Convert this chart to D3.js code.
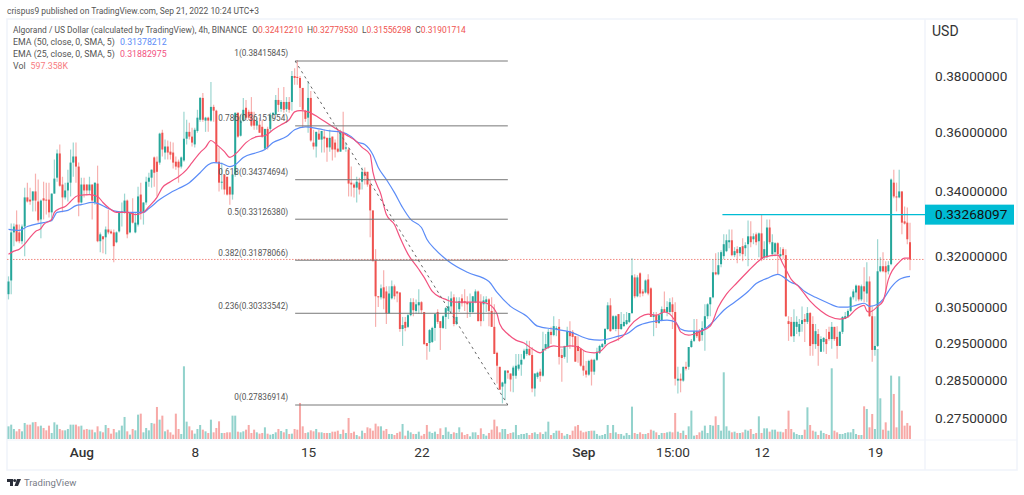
<!DOCTYPE html>
<html>
<head>
<meta charset="utf-8">
<title>ALGO/USD 4h</title>
<script src="https://cdn.jsdelivr.net/npm/d3@7"></script>
<style>
    html, body { margin: 0; padding: 0; background: #fff; overflow: hidden; }
    svg { display: block; font-family: Roboto, sans-serif; }
</style>
</head>
<body>
<svg id="chart" width="1024" height="495"></svg>
<script>
// 4h candles: open, high, low, close (price x 10000)
const candles = [
    // late July
    [3088,3140,3073,3125],[3128,3299,3088,3272],[3272,3299,3230,3290],[3296,3340,3242,3245],[3272,3296,3239,3245],[3245,3296,3236,3290],
    [3290,3412,3200,3381],[3381,3428,3365,3368],[3374,3412,3358,3368],[3371,3400,3337,3400],[3400,3457,3337,3371],[3368,3438,3302,3309],
    [3312,3374,3254,3371],[3378,3431,3312,3371],[3374,3428,3327,3371],[3374,3428,3318,3334],[3334,3393,3306,3393],[3393,3503,3393,3441],
    [3444,3536,3431,3523],[3523,3553,3415,3418],[3422,3447,3334,3381],[3381,3428,3374,3403],[3403,3470,3368,3428],[3428,3536,3384,3493],
    [3493,3559,3447,3513],[3513,3559,3428,3480],[3480,3493,3322,3365],[3365,3444,3362,3422],
    // Aug 1
    [3422,3444,3381,3403],[3422,3422,3387,3403],[3403,3447,3390,3422],[3422,3422,3312,3371],[3365,3428,3358,3428],[3425,3483,3242,3245],
    [3245,3272,3212,3266],[3260,3260,3209,3251],[3257,3290,3206,3281],[3281,3343,3266,3272],[3275,3281,3266,3269],[3272,3281,3182,3230],
    [3242,3275,3239,3272],[3275,3337,3272,3334],[3334,3365,3290,3337],[3334,3393,3330,3371],[3371,3374,3254,3266],[3272,3334,3269,3334],
    [3334,3378,3299,3302],[3272,3334,3269,3302],[3296,3415,3290,3384],[3390,3428,3312,3334],[3334,3365,3296,3365],[3365,3447,3358,3431],
    [3431,3460,3415,3444],[3444,3470,3412,3470],[3510,3513,3415,3460],[3496,3513,3384,3463],[3493,3592,3486,3589],[3592,3602,3513,3536],
    [3526,3569,3503,3546],[3546,3566,3503,3526],[3529,3562,3503,3519],[3526,3559,3474,3493],[3496,3513,3470,3480],[3496,3503,3428,3477],
    [3480,3513,3474,3510],[3500,3663,3496,3572],[3572,3636,3553,3595],[3595,3626,3569,3579],[3579,3609,3546,3559],[3553,3609,3543,3602],
    // Aug 8
    [3598,3670,3592,3643],[3636,3714,3629,3711],[3711,3728,3629,3636],[3633,3646,3595,3643],[3643,3646,3595,3633],[3633,3767,3629,3680],
    [3680,3687,3629,3667],[3667,3670,3493,3493],[3496,3543,3400,3428],[3428,3493,3406,3431],[3454,3454,3390,3406],[3447,3447,3387,3390],
    [3415,3415,3358,3390],[3390,3454,3374,3454],[3454,3660,3447,3660],[3660,3660,3575,3579],[3582,3653,3579,3633],[3633,3711,3629,3670],
    [3677,3704,3636,3643],[3663,3670,3636,3643],[3663,3714,3612,3616],[3636,3663,3602,3616],[3616,3643,3602,3633],[3619,3643,3592,3592],
    [3612,3636,3575,3579],[3539,3605,3536,3605],[3605,3612,3536,3543],[3605,3660,3595,3653],[3653,3660,3636,3660],[3653,3721,3653,3704],
    [3704,3746,3663,3687],[3673,3704,3663,3697],[3697,3749,3660,3670],[3673,3714,3663,3697],[3697,3714,3660,3670],[3697,3806,3667,3788],
    [3788,3816,3757,3781],[3785,3845,3757,3781],[3781,3788,3680,3746],[3746,3746,3609,3670],[3667,3670,3629,3639],[3643,3770,3592,3711],
    // Aug 15
    [3711,3735,3562,3566],[3559,3602,3536,3546],[3546,3595,3510,3595],[3589,3602,3569,3569],[3569,3598,3526,3598],[3579,3602,3526,3572],
    [3575,3575,3496,3543],[3543,3602,3529,3575],[3579,3579,3500,3536],[3559,3569,3510,3536],[3539,3602,3526,3529],[3529,3602,3529,3595],
    [3595,3663,3536,3536],[3539,3559,3529,3543],[3536,3543,3384,3425],[3428,3480,3384,3422],[3422,3428,3381,3412],[3412,3447,3365,3431],
    [3428,3444,3390,3406],[3431,3477,3406,3463],[3463,3477,3422,3450],[3463,3463,3415,3422],[3422,3438,3257,3340],[3340,3340,3185,3185],
    [3188,3221,2995,3082],[3082,3082,3051,3079],[3079,3116,3073,3105],[3108,3158,3045,3076],[3096,3111,3003,3033],[3033,3111,3031,3090],
    [3076,3128,3073,3111],[3111,3116,3073,3082],[3096,3096,3065,3090],[3093,3093,2981,2989],[2989,3023,2942,3000],[3009,3023,2983,2992],
    [2995,3031,2992,3028],[3028,3076,3025,3065],[3065,3076,3025,3042],[3040,3073,3031,3059],[3056,3102,3031,3065],[3065,3068,3031,3042],
    // Aug 22
    [3037,3037,2945,2947],[2950,2950,2904,2942],[2950,2989,2926,2986],[2953,2995,2950,2992],[2992,3034,2956,3031],[3037,3045,3003,3009],
    [3011,3011,2931,2992],[2992,3028,2989,3025],[3023,3051,2989,3048],[3040,3082,3017,3053],[3053,3096,3031,3076],[3079,3088,2997,3003],
    [3003,3079,3000,3023],[3045,3079,3037,3068],[3076,3088,3053,3062],[3068,3102,3040,3062],[3065,3082,3020,3059],[3037,3090,3023,3065],
    [3037,3082,3034,3082],[3065,3102,3062,3096],[3096,3099,3011,3011],[3065,3088,2997,3011],[3059,3082,3011,3070],[3065,3082,3037,3073],
    [3073,3076,2997,3040],[3040,3079,2995,2995],[2995,3059,2920,2920],[2923,2926,2840,2888],[2885,2885,2824,2824],[2832,2845,2788,2843],
    [2840,2875,2796,2875],[2875,2875,2853,2869],[2867,2867,2819,2851],[2861,2888,2817,2883],[2861,2920,2853,2888],[2880,2920,2875,2891],
    [2891,2920,2861,2904],[2907,2934,2904,2929],[2920,2956,2915,2934],[2934,2956,2915,2917],[2917,2939,2817,2827],[2827,2867,2806,2867],
    [2858,2872,2853,2869],[2872,2880,2845,2861],[2861,2981,2858,2934],[2934,2975,2929,2947],[2937,2989,2934,2981],[2981,2995,2947,2972],
    [2972,3025,2969,2997],[2989,2997,2969,2992],[2995,3017,2891,2912],[2917,2934,2845,2909],[2912,2942,2907,2942],[2942,2995,2896,2983],
    [2983,3011,2934,2969],[2981,2986,2939,2967],[2969,2969,2899,2899],[2942,2969,2896,2928],[2934,2934,2885,2888],[2888,2928,2861,2875],
    // Sep
    [2875,2901,2856,2864],[2864,2904,2861,2901],[2904,2907,2835,2872],[2872,2907,2864,2904],[2904,2937,2901,2926],[2923,2945,2920,2942],
    [2939,2950,2937,2947],[2947,2992,2942,2989],[2989,3065,2986,3056],[3056,3076,2981,2983],[2989,3028,2986,3025],[2989,3028,2983,3025],
    [3031,3031,2956,2989],[2989,3037,2986,3003],[2997,3031,2995,3009],[3003,3037,3000,3014],[3009,3034,3006,3034],[3034,3194,3031,3143],
    [3137,3146,3076,3082],[3082,3143,3079,3137],[3149,3152,3079,3090],[3096,3102,3082,3090],[3093,3131,3090,3128],[3131,3146,3085,3090],
    [3105,3108,3023,3023],[3023,3037,2969,3028],[3028,3037,2992,3006],[3006,3031,3003,3028],[3014,3053,3011,3045],[3045,3096,3034,3037],
    [3037,3068,3025,3051],[3037,3076,3031,3065],[3059,3079,2989,3037],[3037,3065,2835,2853],[2848,2885,2814,2853],[2853,2867,2817,2848],
    [2848,2885,2845,2885],[2885,2899,2875,2880],[2885,2939,2877,2939],[2939,2961,2937,2956],[2956,3017,2953,2983],[2983,3017,2964,2969],
    [2983,2989,2953,2956],[2972,3011,2956,2992],[2992,3059,2929,3025],[3025,3062,3017,3059],[3059,3079,3025,3079],[3079,3191,3076,3152],
    [3152,3209,3143,3146],[3146,3212,3143,3173],[3176,3218,3167,3212],[3200,3266,3191,3236],[3215,3266,3212,3248],[3242,3281,3224,3248],
    [3248,3281,3200,3203],[3203,3227,3197,3215],[3221,3230,3179,3209],[3209,3227,3200,3227],[3230,3254,3185,3206],[3224,3242,3200,3233],
    // Sep 12
    [3236,3309,3170,3260],[3260,3306,3227,3242],[3251,3269,3236,3260],[3266,3272,3233,3242],[3245,3272,3197,3269],[3269,3327,3185,3191],
    [3197,3245,3191,3221],[3197,3312,3194,3287],[3287,3312,3236,3242],[3206,3266,3200,3242],[3212,3242,3200,3239],[3239,3242,3146,3206],
    [3200,3227,3197,3206],[3221,3227,3191,3203],[3203,3221,3023,3025],[3011,3025,2956,3003],[3009,3023,2967,2969],[2969,3045,2953,3009],
    [2995,3025,2975,3009],[2981,3017,2969,3003],[3003,3053,2981,3014],[3017,3031,2953,3009],[3009,3051,3003,3034],[3034,3037,2915,2942],
    [3003,3025,2915,2947],[2947,3003,2934,2983],[2975,2989,2888,2942],[2926,2969,2926,2961],[2953,2967,2926,2964],[2961,2989,2920,2947],
    [2981,2995,2956,2961],[2961,3009,2934,2995],[2995,2995,2956,2961],[2967,2997,2907,2942],[2942,2983,2942,2981],[2981,3025,2975,3023],
    [3017,3037,3017,3025],[3023,3045,3020,3040],[3040,3082,3037,3079],[3079,3102,3073,3096],[3093,3116,3068,3113],[3113,3113,3068,3073],
    // Sep 19
    [3073,3116,3068,3111],[3111,3167,3065,3096],[3090,3182,3065,3125],[3125,3140,3023,3025],[3025,3053,2899,2931],[2931,3025,2915,2942],
    [2942,3251,2939,3155],[3155,3197,3152,3170],[3170,3212,3152,3155],[3170,3185,3093,3152],[3155,3185,3146,3173],[3176,3441,3173,3438],
    [3428,3470,3378,3384],[3384,3428,3337,3381],[3381,3470,3378,3400],[3400,3400,3266,3302],[3306,3352,3296,3299],[3302,3349,3236,3251],
    [3242,3302,3158,3190]
];

// relative volume per candle
const volumes = [
    38,43,30,23,30,23,48,43,43,50,51,38,40,33,26,40,18,50,43,30,26,26,30,43,43,43,38,40,28,30,28,28,20,38,23,20,42,33,16,30,
    20,26,40,66,23,13,30,26,73,76,20,33,26,48,46,96,58,70,23,28,20,13,76,30,15,218,52,38,26,16,30,42,28,23,18,58,20,33,53,18,
    18,20,20,70,70,22,20,23,28,42,18,28,20,16,18,35,16,13,15,20,30,24,20,30,15,16,30,28,108,38,18,20,26,23,30,20,20,18,18,
    18,22,22,25,15,28,18,63,18,22,12,8,25,18,35,32,25,46,38,38,25,30,15,15,12,18,22,45,10,25,20,15,15,22,10,15,42,22,18,22,
    15,32,12,35,22,15,20,18,35,20,12,15,8,20,20,12,32,15,10,18,28,58,38,20,30,30,15,18,20,42,12,15,15,18,12,18,20,15,20,15,
    22,52,12,18,25,25,18,10,15,12,25,38,42,25,20,22,24,25,25,15,10,12,15,42,18,42,20,15,15,10,18,12,97,18,15,20,15,15,18,28,
    25,20,12,18,18,20,22,
    20,78,22,18,25,12,38,85,10,12,20,25,40,18,42,40,68,42,25,200,38,25,20,22,18,18,20,28,25,30,15,18,68,18,32,32,22,28,28,22,22,
    20,30,85,30,20,15,12,12,28,95,42,25,22,12,25,18,15,12,212,25,20,15,15,18,20,20,30,15,12,12,98,90,35,75,30,270,122,28,50,25,
    190,135,35,188,85,40,48,40
];

// moving averages: [candle index, price x 10000]
const ema25 = [
    [0,3206],[2,3215],[4,3221],[6,3236],[8,3257],[10,3275],[12,3284],[13,3296],[16,3312],[17,3334],[19,3346],[21,3352],[23,3368],[25,3384],[26,3387],[30,3390],[33,3384],[35,3365],[37,3349],[40,3334],
    [44,3334],[47,3327],[50,3334],[52,3352],[55,3381],[57,3412],[60,3431],[63,3447],[66,3470],[68,3493],[71,3526],[73,3543],[75,3566],[77,3553],[80,3529],[82,3510],[85,3529],[88,3559],[92,3579],[95,3582],
    [98,3602],[101,3619],[104,3636],[106,3663],[108,3667],[111,3663],[115,3643],[119,3619],[122,3602],[125,3585],[129,3562],[131,3543],[134,3519],[135,3463],[138,3390],[140,3327],[143,3296],[145,3257],[148,3206],[152,3161],
    [154,3137],[157,3096],[160,3079],[162,3073],[165,3065],[170,3065],[175,3065],[178,3059],[181,3031],[182,3003],[185,2975],[188,2958],[191,2950],[194,2934],[197,2923],[199,2934],[202,2942],[205,2939],[208,2942],[211,2939],
    [214,2926],[217,2923],[219,2926],[222,2947],[226,2961],[228,2972],[230,2995],[234,3023],[237,3031],[240,3028],[243,3037],[245,3031],[248,2997],[249,2981],[252,2972],[256,2981],[260,2997],[263,3051],[266,3088],[270,3122],
    [274,3155],[277,3179],[280,3197],[285,3203],[287,3176],[290,3131],[293,3108],[297,3068],[301,3040],[304,3025],[308,3017],[311,3023],[314,3045],[317,3056],[318,3040],[319,3037],[322,3053],[324,3068],[326,3131],[330,3182],
    [332,3194],[334,3194]
];
const ema50 = [
    [0,3281],[4,3278],[7,3290],[11,3299],[13,3302],[16,3309],[18,3334],[22,3340],[25,3355],[27,3358],[31,3365],[33,3362],[37,3346],[40,3337],[44,3334],[47,3334],[50,3334],[52,3346],[56,3374],[60,3396],
    [63,3409],[67,3428],[71,3460],[74,3486],[76,3493],[79,3490],[82,3480],[84,3486],[87,3510],[92,3526],[95,3536],[98,3559],[103,3579],[106,3602],[110,3612],[115,3605],[119,3598],[123,3595],[127,3579],[129,3562],
    [132,3553],[135,3519],[137,3477],[140,3438],[143,3396],[146,3349],[149,3312],[153,3287],[155,3251],[158,3221],[163,3185],[170,3152],[178,3125],[181,3093],[186,3053],[192,3025],[196,2997],[202,2989],[208,2981],[215,2961],
    [219,2958],[226,2969],[229,2975],[233,2997],[238,3009],[244,3014],[247,3009],[249,2989],[252,2983],[256,2983],[259,2995],[262,3017],[265,3042],[269,3065],[274,3096],[277,3119],[281,3134],[285,3146],[290,3122],[292,3116],
    [295,3096],[299,3079],[303,3065],[308,3051],[311,3051],[314,3056],[317,3062],[319,3053],[322,3059],[324,3073],[327,3108],[330,3131],[334,3140]
];

const fibLevels = [
    { ratio: "1", price: 0.38415845 },
    { ratio: "0.786", price: 0.36151954 },
    { ratio: "0.618", price: 0.34374694 },
    { ratio: "0.5", price: 0.33126380 },
    { ratio: "0.382", price: 0.31878066 },
    { ratio: "0.236", price: 0.30333542 },
    { ratio: "0", price: 0.27836914 }
];

const resistance = 0.33268097;
const lastClose = 0.31901714;
const priceTicks = [0.38, 0.36, 0.34, 0.32, 0.305, 0.295, 0.285, 0.275];
const timeTicks = new Map([[27, "Aug"], [69, "8"], [111, "15"], [153, "22"], [213, "Sep"], [246, "15:00"], [279, "12"], [321, "19"]]);

const up = "#26a69a", down = "#ef5350";
const plot = { left: 7, right: 925, top: 19, bottom: 470, volBase: 439, outer: 1017 };

const svg = d3.select("#chart");

// === Scales ===
const x = d3.scaleLinear().domain([0, candles.length - 1]).range([8.5, 910]);
const y = d3.scaleLog().domain([0.38415845, 0.27836914]).range([61, 405]);
const yVol = d3.scaleLinear().domain([0, 218]).range([plot.volBase, 366.3]);
const p = v => y(v / 10000);

// === Frame ===
const frame = svg.append("g").attr("fill", "none").attr("stroke", "#f0f3fa").attr("stroke-width", 1.5);
frame.append("rect").attr("x", plot.left).attr("y", plot.top)
    .attr("width", plot.outer - plot.left).attr("height", plot.bottom - plot.top);
frame.append("line").attr("x1", plot.right).attr("x2", plot.right).attr("y1", plot.top).attr("y2", plot.bottom);
frame.append("line").attr("x1", plot.left).attr("x2", plot.outer).attr("y1", 440).attr("y2", 440).attr("stroke-width", 1);

// === Last price line ===
svg.append("line").attr("x1", plot.left).attr("x2", plot.right)
    .attr("y1", y(lastClose)).attr("y2", y(lastClose))
    .attr("stroke", "#f28b82").attr("stroke-width", 1).attr("stroke-dasharray", "1.5 1.5");

// === Volume ===
svg.append("g").selectAll("rect")
    .data(candles).enter().append("rect")
    .attr("x", (d, i) => x(i) - 1).attr("width", 2)
    .attr("y", (d, i) => yVol(volumes[i] || 0))
    .attr("height", (d, i) => plot.volBase - yVol(volumes[i] || 0))
    .attr("fill", d => d[3] >= d[0] ? up : down).attr("opacity", 0.5);

// === Candles ===
const cg = svg.append("g");
cg.selectAll("line")
    .data(candles).enter().append("line")
    .attr("x1", (d, i) => x(i)).attr("x2", (d, i) => x(i))
    .attr("y1", d => p(d[1])).attr("y2", d => p(d[2]))
    .attr("stroke", d => d[3] >= d[0] ? up : down).attr("stroke-width", 1.2).attr("opacity", 0.45);
cg.selectAll("rect")
    .data(candles).enter().append("rect")
    .attr("x", (d, i) => x(i) - 1).attr("width", 2)
    .attr("y", d => p(Math.max(d[0], d[3])))
    .attr("height", d => Math.max(1, Math.abs(p(d[0]) - p(d[3]))))
    .attr("fill", d => d[3] >= d[0] ? up : down);

// === EMA lines ===
const emaLine = d3.line().x(d => x(d[0])).y(d => p(d[1])).curve(d3.curveMonotoneX);
svg.append("path").datum(ema50).attr("d", emaLine).attr("fill", "none").attr("stroke", "#5b8cf7").attr("stroke-width", 1.2);
svg.append("path").datum(ema25).attr("d", emaLine).attr("fill", "none").attr("stroke", "#f2527f").attr("stroke-width", 1.2);

// === Fibonacci drawing ===
const fibFrom = x(106.2), fibTo = x(185);
svg.append("g").selectAll("line")
    .data(fibLevels).enter().append("line")
    .attr("x1", fibFrom).attr("x2", fibTo)
    .attr("y1", d => y(d.price)).attr("y2", d => y(d.price))
    .attr("stroke", "#787878").attr("stroke-width", 1);
svg.append("g").selectAll("text")
    .data(fibLevels).enter().append("text")
    .attr("x", fibFrom - 7).attr("y", d => y(d.price) - 7.5).attr("dy", "0.35em")
    .attr("text-anchor", "end").attr("font-size", 8.2).attr("fill", "#555")
    .text(d => `${d.ratio}(${d.price.toFixed(8)})`);
svg.append("line").attr("x1", fibFrom).attr("x2", fibTo)
    .attr("y1", y(0.38415845)).attr("y2", y(0.27836914))
    .attr("stroke", "#666").attr("stroke-width", 1).attr("stroke-dasharray", "2.5 3.5");

// === Resistance line and price tag ===
svg.append("line").attr("x1", x(264.5)).attr("x2", plot.right)
    .attr("y1", y(resistance)).attr("y2", y(resistance))
    .attr("stroke", "#00bcd4").attr("stroke-width", 1.2);
svg.append("rect").attr("x", plot.right).attr("width", plot.outer - plot.right - 3)
    .attr("y", y(resistance) - 10).attr("height", 20).attr("fill", "#00bcd4");

// === Axes ===
const tickNudge = new Map([[0.38, 4], [0.36, 1.5]]); // top labels sit slightly below the log position in the picture
const yAxis = svg.append("g").attr("transform", `translate(${plot.right},0)`)
    .call(d3.axisRight(y).tickValues(priceTicks).tickFormat(d3.format(".8f")).tickSize(0).tickPadding(10));
yAxis.select(".domain").remove();
yAxis.selectAll(".tick text").attr("font-family", "Roboto").attr("font-size", 13.6).attr("fill", "#333")
    .attr("transform", d => `translate(0,${tickNudge.get(d) || 0})`);
yAxis.append("text").attr("x", 10).attr("y", y(resistance)).attr("dy", "0.35em")
    .attr("font-family", "Roboto").attr("font-size", 13.6).attr("fill", "#111").text(resistance.toFixed(8));

const xAxis = svg.append("g").attr("transform", `translate(0,${plot.volBase})`)
    .call(d3.axisBottom(x).tickValues([...timeTicks.keys()]).tickFormat(i => timeTicks.get(i)).tickSize(0).tickPadding(8));
xAxis.select(".domain").remove();
xAxis.selectAll("text").attr("font-family", "Roboto").attr("font-size", 13.6).attr("fill", "#333")
    .attr("font-weight", i => timeTicks.get(i).length === 3 ? 500 : 400);

svg.append("text").attr("x", 932).attr("y", 36).attr("font-size", 14).attr("fill", "#333").text("USD");

// === Header and legend ===
svg.append("text").attr("x", 7).attr("y", 14).attr("font-size", 8.45).attr("fill", "#555")
    .text("crispus9 published on TradingView.com, Sep 21, 2022 10:24 UTC+3");

const legend = svg.append("g").attr("font-size", 8.8).attr("fill", "#555");
const row0 = legend.append("text").attr("x", 13).attr("y", 33).attr("font-size", 8.45);
row0.append("tspan").text("Algorand / US Dollar (calculated by TradingView), 4h, BINANCE  ");
[["O", "0.32412210"], ["H", "0.32779530"], ["L", "0.31556298"], ["C", "0.31901714"]].forEach(([k, v], i) => {
    row0.append("tspan").attr("dx", i ? 4 : 3).text(k);
    row0.append("tspan").attr("fill", down).text(v);
});
[
    ["EMA (50, close, 0, SMA, 5)", "0.31378212", "#5b8cf7", 45],
    ["EMA (25, close, 0, SMA, 5)", "0.31882975", "#f2527f", 57],
    ["Vol", "597.358K", "#f77c80", 69]
].forEach(([name, val, col, yy]) => {
    const t = legend.append("text").attr("x", 13).attr("y", yy);
    t.append("tspan").text(name);
    t.append("tspan").attr("dx", 5).attr("fill", col).text(val);
});

// === TradingView footer ===
const logo = svg.append("g").attr("transform", "translate(7,479)").attr("fill", "#2a2e39");
logo.append("path").attr("d", "M0 0H6V7H3V3H0Z");
logo.append("circle").attr("cx", 7.7).attr("cy", 1.6).attr("r", 1.5);
logo.append("path").attr("d", "M10 0H14L11 7H7.5Z");
svg.append("text").attr("x", 24).attr("y", 486).attr("font-size", 9.5).attr("fill", "#787b86").text("TradingView");
</script>
</body>
</html>
